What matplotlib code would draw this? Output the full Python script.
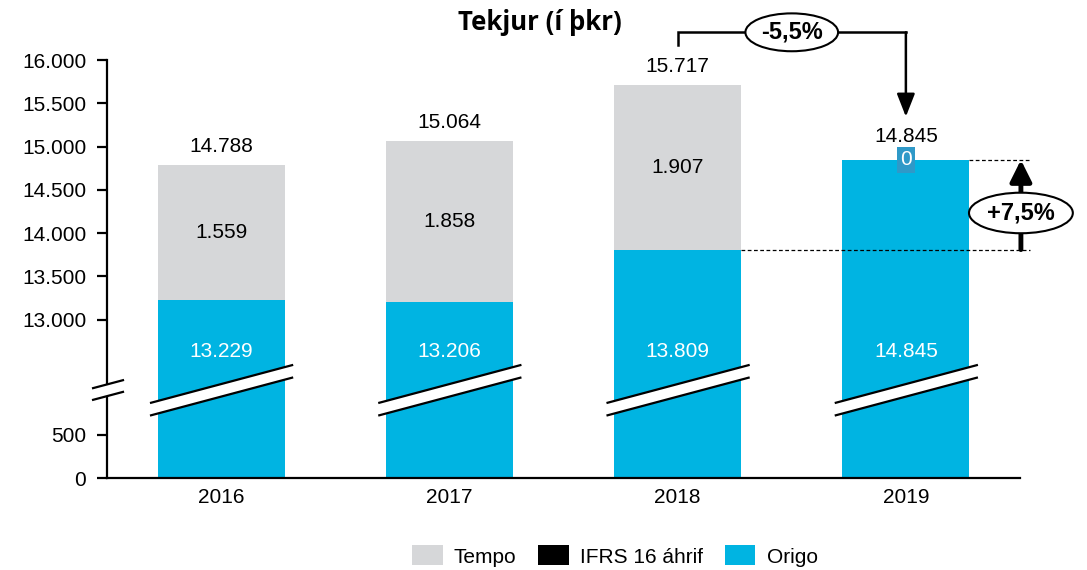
import numpy as np
import matplotlib
matplotlib.use("Agg")
import matplotlib.pyplot as plt
from matplotlib.patches import Patch, Polygon
import matplotlib.transforms as mtransforms

# ---------------- data ----------------
years = ["2016", "2017", "2018", "2019"]
origo = [13229, 13206, 13809, 14845]
tempo = [1559, 1858, 1907, 0]
ifrs = [0, 0, 0, 0]
totals = [14788, 15064, 15717, 14845]
ytick_values = [0, 500, 13000, 13500, 14000, 14500, 15000, 15500, 16000]
ytick_labels = ["0", "500", "13.000", "13.500", "14.000", "14.500", "15.000", "15.500", "16.000"]
change_yoy = "-5,5%"
change_origo = "+7,5%"

def fmt(v):
    return f"{v:,}".replace(",", ".")

# ---------------- broken scale ----------------
B1, B2, D = 1100.0, 12300.0, 11169.0
K = (B2 - D - B1) / (B2 - B1)

def fwd(v):
    v = np.asarray(v, dtype=float)
    return np.where(v <= B1, v, np.where(v >= B2, v - D, B1 + (v - B1) * K))

def inv(p):
    p = np.asarray(p, dtype=float)
    return np.where(p <= B1, p, np.where(p >= B2 - D, p + D, B1 + (p - B1) / K))

GRAY = "#D6D7D9"
BLUE = "#00B4E2"
FONT = "Liberation Sans"
FS = 15

fig = plt.figure(figsize=(10.87, 5.70), dpi=100)
ax = fig.add_axes([107 / 1087, 1 - 478 / 570, 913 / 1087, 418 / 570])
ax.set_yscale("function", functions=(fwd, inv))
ax.set_ylim(0, 16000)
ax.set_xlim(-0.5, 3.5)

x = np.arange(len(years))
W = 0.556
ax.bar(x, origo, W, color=BLUE, zorder=2)
ax.bar(x, ifrs, W, bottom=origo, color="black", zorder=2)
bott = [o + i for o, i in zip(origo, ifrs)]
ax.bar(x, tempo, W, bottom=bott, color=GRAY, zorder=2)

# labels
for xi, o, t, tot in zip(x, origo, tempo, totals):
    ax.text(xi, 12630, fmt(o), ha="center", va="center", color="white",
            fontsize=FS, family=FONT, zorder=5)
    if t > 0:
        ax.text(xi, o + t / 2, fmt(t), ha="center", va="center", color="black",
                fontsize=FS, family=FONT, zorder=5)
    off = 13 if t > 0 else 17
    ax.annotate(fmt(tot), (xi, tot), xytext=(0, off), textcoords="offset points",
                ha="center", va="center", fontsize=FS, family=FONT, zorder=5)

# IFRS label for 2019
ax.text(3, origo[3], str(ifrs[3]), ha="center", va="center", color="white",
        fontsize=FS, family=FONT, zorder=6,
        bbox=dict(boxstyle="square,pad=0.15", fc="#2F99C8", ec="none"))

# axes styling
for s in ["top", "right"]:
    ax.spines[s].set_visible(False)
ax.spines["left"].set_linewidth(1.6)
ax.spines["bottom"].set_linewidth(1.6)
ax.set_yticks(ytick_values)
ax.set_yticklabels(ytick_labels, family=FONT, fontsize=FS)
ax.set_xticks(x)
ax.set_xticklabels(years, family=FONT, fontsize=FS)
ax.tick_params(axis="x", length=0, pad=7)
ax.tick_params(axis="y", length=7, width=1.6, pad=8)

# break marks
tr = mtransforms.blended_transform_factory(ax.transData, ax.transAxes)
# on axis
ax_x0, ax_x1 = -0.561, -0.430
ax.add_patch(Polygon([[ax_x0, 0.187], [ax_x1, 0.206], [ax_x1, 0.234], [ax_x0, 0.215]],
                     closed=True, fc="white", ec="none", transform=tr, clip_on=False, zorder=7))
for y0, y1 in [(0.187, 0.206), (0.215, 0.234)]:
    ax.plot([ax_x0, ax_x1], [y0, y1], color="black", lw=1.6, transform=tr, clip_on=False, zorder=8)
# on bars
for xi in x:
    l, r = xi - 0.307, xi + 0.311
    ax.add_patch(Polygon([[l, 0.150], [r, 0.240], [r, 0.270], [l, 0.180]], closed=True,
                         fc="white", ec="none", transform=tr, clip_on=False, zorder=3))
    for y0, y1 in [(0.150, 0.240), (0.180, 0.270)]:
        ax.plot([l, r], [y0, y1], color="black", lw=1.6, transform=tr, clip_on=False, zorder=4)

# dashed reference lines
ax.plot([2 + W / 2, 3.544], [origo[2], origo[2]], ls=(0, (3, 2)), color="black", lw=0.9, zorder=4, clip_on=False)
ax.plot([3 + W / 2, 3.544], [totals[3], totals[3]], ls=(0, (3, 2)), color="black", lw=0.9, zorder=4, clip_on=False)

# vertical arrow +7,5%
ax.annotate("", xy=(3.504, totals[3]), xytext=(3.504, origo[2]),
            arrowprops=dict(arrowstyle="-|>,head_length=1.3,head_width=0.65", lw=3.5, color="black",
                            shrinkA=0, shrinkB=0), annotation_clip=False, zorder=6)
ax.text(3.504, 14232, change_origo, ha="center", va="center", fontsize=17, fontweight="bold",
        family=FONT, zorder=9, clip_on=False,
        bbox=dict(boxstyle="ellipse,pad=0.12", fc="white", ec="black", lw=1.5))

# top bracket -5,5%
yb = 16320
ax.plot([2, 2, 3], [totals[2] + 455, yb, yb], color="black", lw=1.8, clip_on=False, zorder=6,
        solid_joinstyle="miter")
ax.annotate("", xy=(3, totals[3] + 500), xytext=(3, yb),
            arrowprops=dict(arrowstyle="-|>,head_length=1.4,head_width=0.55", lw=1.8, color="black",
                            shrinkA=0, shrinkB=0), annotation_clip=False, zorder=6)
ax.text(2.5, yb, change_yoy, ha="center", va="center", fontsize=17, fontweight="bold",
        family=FONT, zorder=9, clip_on=False,
        bbox=dict(boxstyle="ellipse,pad=0.08", fc="white", ec="black", lw=1.5))

# title
fig.text(0.497, 1 - 22 / 570, "Tekjur (í þkr)", ha="center", va="center", fontsize=18.5,
         fontweight="bold", family="Open Sans")

# legend
handles = [Patch(fc=GRAY, ec="none"), Patch(fc="black", ec="none"), Patch(fc=BLUE, ec="none")]
fig.legend(handles, ["Tempo", "IFRS 16 áhrif", "Origo"], loc="center",
           bbox_to_anchor=(615 / 1087, 1 - 556 / 570), ncol=3, frameon=False,
           prop=dict(family=FONT, size=FS), handlelength=1.45, handleheight=1.1,
           handletextpad=0.55, columnspacing=1.05)

fig.savefig("out.png", dpi=100)
